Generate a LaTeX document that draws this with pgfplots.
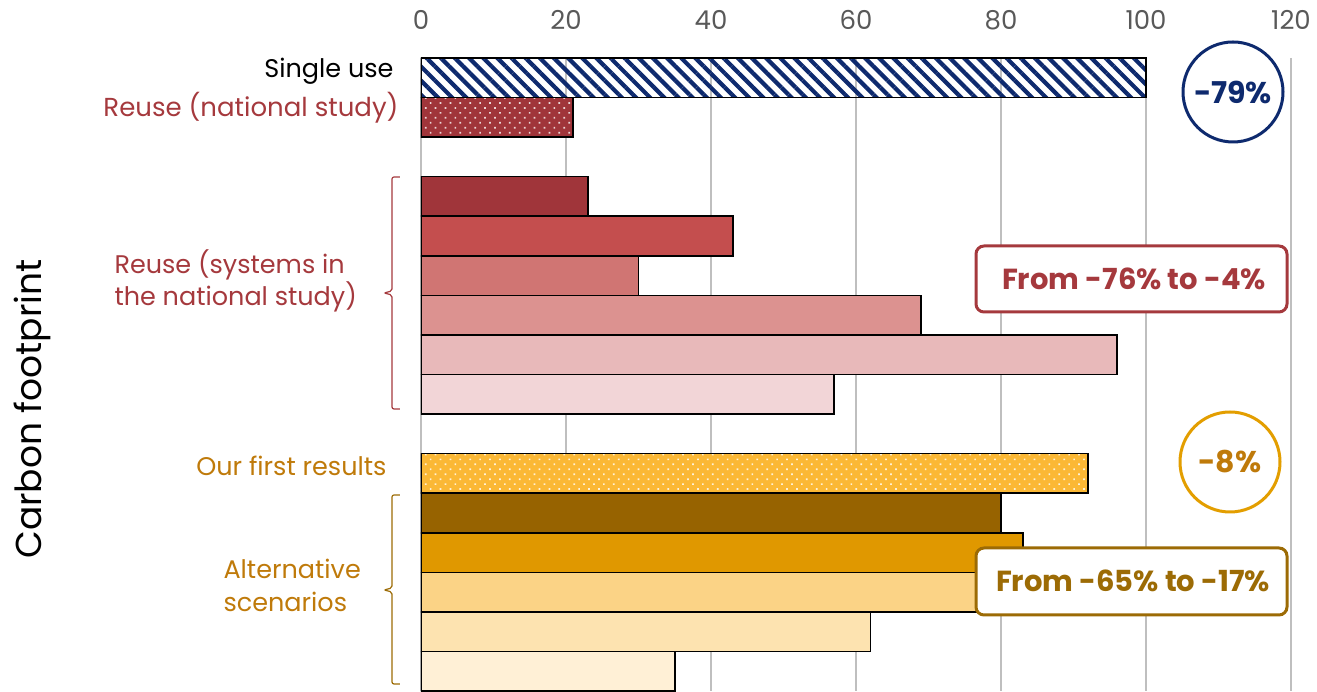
\documentclass[border=0pt]{standalone}
\usepackage{pgfplots}
\pgfplotsset{compat=1.18}
\usetikzlibrary{patterns.meta}
\usepackage{fontspec}
\setmainfont{Poppins}
\definecolor{navy}{HTML}{0E2A6E}
\definecolor{rA}{HTML}{A0353A}
\definecolor{rB}{HTML}{C44E4E}
\definecolor{rC}{HTML}{D07573}
\definecolor{rD}{HTML}{DC9290}
\definecolor{rE}{HTML}{E8B9BA}
\definecolor{rF}{HTML}{F2D5D7}
\definecolor{rtext}{HTML}{A5393D}
\definecolor{gold}{HTML}{FBB835}
\definecolor{oA}{HTML}{976300}
\definecolor{oB}{HTML}{E09800}
\definecolor{oC}{HTML}{FBD386}
\definecolor{oD}{HTML}{FDE3B0}
\definecolor{oE}{HTML}{FFF0D6}
\definecolor{otext}{HTML}{BF7A0A}
\definecolor{obox}{HTML}{9C6B05}
\definecolor{ocirc}{HTML}{E39E00}
\definecolor{grid}{HTML}{D9D9D9}
\definecolor{ticktext}{HTML}{595959}
\begin{document}
\begin{tikzpicture}[x=1pt,y=1pt]
\begin{axis}[
  at={(0,0)}, anchor=south west,
  scale only axis, width=870pt, height=633pt,
  xmin=0, xmax=120, ymin=-0.5, ymax=15.5, y dir=reverse,
  xtick={0,20,...,120}, ytick=\empty,
  xticklabel pos=upper,
  axis line style={draw=none},
  major tick length=0pt,
  xmajorgrids, major grid style={grid, line width=1.5pt},
  /pgf/number format/assume math mode=true,
  x tick label style={font=\fontsize{26}{30}\selectfont, text=ticktext, anchor=base, yshift=28pt},
  mybar/.style={xbar, bar width=1, bar shift=0pt, draw=black, line width=1.6pt},
]
\addplot[mybar, pattern={Lines[angle=-45, distance=10pt, line width=4.2pt]}, pattern color=navy] coordinates {(100,0)};
\addplot[mybar, fill=rA, postaction={pattern={Dots[radius=1.2pt, distance=7pt, angle=45]}, pattern color=white!80!rA}] coordinates {(21,1)};
\addplot[mybar, fill=rA] coordinates {(23,3)};
\addplot[mybar, fill=rB] coordinates {(43,4)};
\addplot[mybar, fill=rC] coordinates {(30,5)};
\addplot[mybar, fill=rD] coordinates {(69,6)};
\addplot[mybar, fill=rE] coordinates {(96,7)};
\addplot[mybar, fill=rF] coordinates {(57,8)};
\addplot[mybar, fill=gold, postaction={pattern={Dots[radius=1.2pt, distance=7pt, angle=45]}, pattern color=white!80!gold}] coordinates {(92,10)};
\addplot[mybar, fill=oA] coordinates {(80,11)};
\addplot[mybar, fill=oB] coordinates {(83,12)};
\addplot[mybar, fill=oC] coordinates {(80,13)};
\addplot[mybar, fill=oD] coordinates {(62,14)};
\addplot[mybar, fill=oE] coordinates {(35,15)};
\end{axis}
% labels
\node[anchor=east, font=\fontsize{25.5}{30}\selectfont, text=black] at (-24,620) {Single use};
\node[anchor=east, font=\fontsize{26}{30}\selectfont, text=rtext] at (-19,583) {Reuse (national study)};
\node[anchor=west, align=left, font=\fontsize{25.5}{32}\selectfont, text=rtext] at (-310,410) {Reuse (systems in\\the national study)};
\node[anchor=east, font=\fontsize{25.5}{30}\selectfont, text=otext] at (-31,225) {Our first results};
\node[anchor=west, align=left, font=\fontsize{25.5}{33}\selectfont, text=otext] at (-201,106) {Alternative\\scenarios};
\node[rotate=90, font=\fontsize{36}{40}\selectfont, text=black] at (-389,282) {Carbon footprint};
% brackets
\draw[rtext, line width=1.2pt, rounded corners=2pt] (-21,514) -- (-29,514) -- (-29,400) -- (-37,398) -- (-29,396) -- (-29,282) -- (-21,282);
\draw[obox, line width=1.2pt, rounded corners=2pt] (-21,196) -- (-29,196) -- (-29,103) -- (-37,101) -- (-29,99) -- (-29,7) -- (-21,7);
% circles
\draw[navy, line width=3pt, fill=white] (812,599) circle (50);
\node[text=navy, font=\fontsize{30}{34}\selectfont\bfseries] at (812,599) {-79\%};
\draw[ocirc, line width=3pt, fill=white] (809,229) circle (50);
\node[text=otext, font=\fontsize{30}{34}\selectfont\bfseries] at (809,229) {-8\%};
% boxes
\draw[rtext, line width=3pt, fill=white, rounded corners=8pt] (555,379) rectangle (866,445);
\node[text=rtext, font=\fontsize{29}{32}\selectfont\bfseries] at (713,412) {From -76\% to -4\%};
\draw[obox, line width=3pt, fill=white, rounded corners=8pt] (555,76) rectangle (866,143);
\node[text=obox, font=\fontsize{29}{32}\selectfont\bfseries] at (712,110) {From -65\% to -17\%};
\pgfresetboundingbox
\path[use as bounding box] (-421,-1) rectangle (896,691);
\end{tikzpicture}
\end{document}
